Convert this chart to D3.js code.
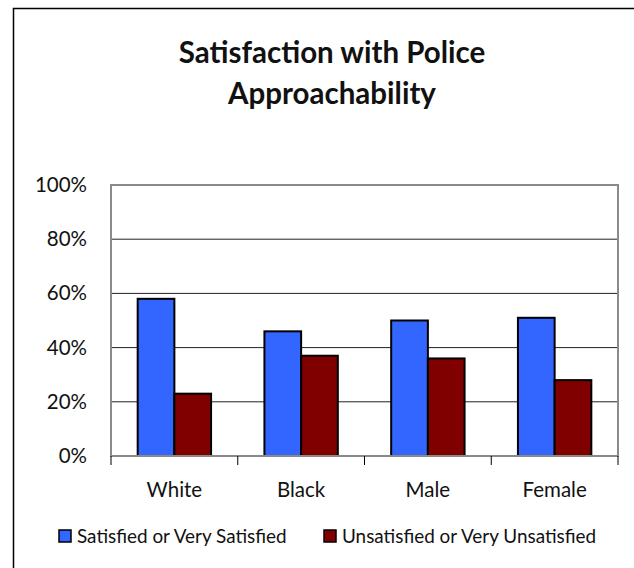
<!DOCTYPE html>
<html>
<head>
<meta charset="utf-8">
<script src="https://cdn.jsdelivr.net/npm/d3@7"></script>
<style>
  html, body { margin: 0; padding: 0; background: #fff; }
  svg { display: block; font-family: Lato, "Open Sans", sans-serif; }
</style>
</head>
<body>
<svg id="chart" width="634" height="568"></svg>
<script>
// Share of respondents by group
const categories = ["White", "Black", "Male", "Female"];
const seriesNames = ["Satisfied or Very Satisfied", "Unsatisfied or Very Unsatisfied"];
const satisfied = [58, 46, 50, 51];
const unsatisfied = [23, 37, 36, 28];
const yTicks = [0, 20, 40, 60, 80, 100];
const titleLines = ["Satisfaction with Police", "Approachability"];
const colors = ["#3366FF", "#800000"];

const rows = categories.map((c, i) => ({ category: c, values: [satisfied[i], unsatisfied[i]] }));

const svg = d3.select("#chart");
const W = 634, H = 568;

// outer chart frame (runs off the right and bottom edges)
svg.append("rect")
  .attr("x", 13.5).attr("y", 8.5)
  .attr("width", W).attr("height", H)
  .attr("fill", "none").attr("stroke", "#000").attr("stroke-width", 1.5);

// title
svg.append("g").selectAll("text")
  .data(titleLines).join("text")
  .attr("x", 332).attr("y", (d, i) => 63 + i * 41)
  .attr("text-anchor", "middle")
  .attr("font-size", 29.5).attr("font-weight", 700).attr("fill", "#111")
  .text(d => d);

const plot = { left: 111, right: 618, top: 185, bottom: 456 };

const x0 = d3.scaleBand().domain(categories).range([plot.left, plot.right]).padding(0);
const x1 = d3.scaleBand().domain([0, 1]).range([0, x0.bandwidth()]).paddingInner(0).paddingOuter(0.727);
const y = d3.scaleLinear().domain([0, 100]).range([plot.bottom, plot.top]);

// gridlines
svg.append("g").selectAll("line")
  .data(yTicks.filter(t => t > 0 && t < 100)).join("line")
  .attr("x1", plot.left).attr("x2", plot.right)
  .attr("y1", d => y(d)).attr("y2", d => y(d))
  .attr("stroke", "#222").attr("stroke-width", 1);

// plot frame
svg.append("rect")
  .attr("x", plot.left).attr("y", plot.top)
  .attr("width", plot.right - plot.left).attr("height", plot.bottom - plot.top)
  .attr("fill", "none").attr("stroke", "#8a8a8a").attr("stroke-width", 2);

// bars
svg.append("g").selectAll("g")
  .data(rows).join("g")
  .attr("transform", d => `translate(${x0(d.category)},0)`)
  .selectAll("rect")
  .data(d => d.values.map((v, i) => ({ v, i }))).join("rect")
  .attr("x", d => x1(d.i))
  .attr("y", d => y(d.v))
  .attr("width", x1.bandwidth())
  .attr("height", d => y(0) - y(d.v))
  .attr("fill", d => colors[d.i])
  .attr("stroke", "#000").attr("stroke-width", 2);

// y axis labels
const yAxis = d3.axisLeft(y).tickValues(yTicks).tickFormat(d => d + "%").tickSize(0).tickPadding(24);
const gy = svg.append("g").attr("transform", `translate(${plot.left},0)`).call(yAxis);
gy.select(".domain").remove();
gy.selectAll("text").attr("font-size", 20.5).attr("font-family", "Lato, sans-serif").attr("fill", "#111");

// x axis with boundary ticks
const gx = svg.append("g").attr("transform", `translate(0,${plot.bottom})`);
gx.append("line").attr("x1", plot.left).attr("x2", plot.right)
  .attr("stroke", "#8a8a8a").attr("stroke-width", 2);
const boundaries = categories.map(c => x0(c)).concat([x0(categories[categories.length - 1]) + x0.bandwidth()]);
gx.selectAll("line.tick").data(boundaries).join("line").attr("class", "tick")
  .attr("x1", d => d).attr("x2", d => d).attr("y1", 0).attr("y2", 9)
  .attr("stroke", "#000").attr("stroke-width", 1);
gx.selectAll("text").data(categories).join("text")
  .attr("x", d => x0(d) + x0.bandwidth() / 2)
  .attr("y", 41)
  .attr("text-anchor", "middle")
  .attr("font-size", 20.5).attr("fill", "#111")
  .text(d => d);

// legend
const legendX = [59, 324];
const lg = svg.append("g").selectAll("g").data(seriesNames).join("g")
  .attr("transform", (d, i) => `translate(${legendX[i]},530)`);
lg.append("rect").attr("width", 12).attr("height", 12)
  .attr("fill", (d, i) => colors[i]).attr("stroke", "#000").attr("stroke-width", 1.5);
lg.append("text").attr("x", 18).attr("y", 13)
  .attr("font-size", 18.9).attr("fill", "#111")
  .text(d => d);
</script>
</body>
</html>
